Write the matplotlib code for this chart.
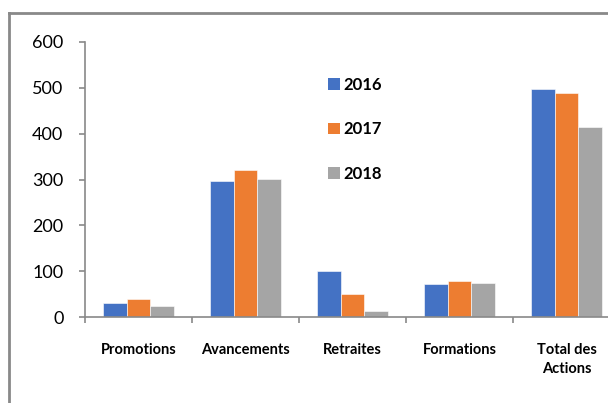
import matplotlib
matplotlib.use("Agg")
import matplotlib.pyplot as plt
import numpy as np
from matplotlib.lines import Line2D
from matplotlib.patches import Patch

# données
categories = ["Promotions", "Avancements", "Retraites", "Formations", "Total des\nActions"]
annees = ["2016", "2017", "2018"]
v2016 = [30, 297, 100, 71, 498]
v2017 = [40, 320, 50, 78, 488]
v2018 = [25, 302, 14, 74, 415]
couleurs = ["#4472C4", "#ED7D31", "#A5A5A5"]

W, H = 608, 403
fig = plt.figure(figsize=(W / 100, H / 100), dpi=100)
fig.patch.set_facecolor("white")

# axe : gauche x=85, 0 a y=317, 600 a y=42, une categorie = 107 px
x0, y0, y1, pas = 85, 317, 42, 107
ax = fig.add_axes([x0 / W, (H - y0) / H, 5 * pas / W, (y0 - y1) / H])

x = np.arange(len(categories))
larg = 0.222
for i, (vals, c) in enumerate(zip([v2016, v2017, v2018], couleurs)):
    ax.bar(x + (i - 1) * larg, vals, width=larg, color=c, edgecolor="white", linewidth=0.4, zorder=2)

ax.set_xlim(-0.5, 4.5)
ax.set_ylim(0, 600)
ax.set_yticks(range(0, 601, 100))

gris = "#898989"
for s in ["top", "right"]:
    ax.spines[s].set_visible(False)
for s in ["left", "bottom"]:
    ax.spines[s].set_color(gris)
    ax.spines[s].set_linewidth(1.2)

ax.tick_params(axis="y", length=4.5, width=1.2, color=gris, pad=11, labelsize=13)
for lab in ax.get_yticklabels():
    lab.set_fontfamily("Lato")

# graduations x aux limites des categories
ax.set_xticks(x)
ax.set_xticklabels(categories, fontfamily="Lato", fontweight="bold", fontsize=10.5, linespacing=1.45, va="top")
ax.tick_params(axis="x", which="major", length=0, pad=19)
ax.set_xticks(np.arange(-0.5, 5, 1), minor=True)
ax.tick_params(axis="x", which="minor", length=4, width=1.2, color=gris)

# legende
poignees = [Patch(facecolor=c, edgecolor="none") for c in couleurs]
leg = ax.legend(poignees, annees, loc="upper left", bbox_to_anchor=(313 / W, (H - 62) / H),
                bbox_transform=fig.transFigure, frameon=False,
                handlelength=0.7, handleheight=0.7, handletextpad=0.2,
                labelspacing=1.7, prop={"family": "Lato", "weight": "bold", "size": 12})

# cadre du graphique (coupe a droite et en bas)
fig.add_artist(Line2D([9 / W, 9 / W], [0, (H - 13) / H], color=gris, lw=2, transform=fig.transFigure))
fig.add_artist(Line2D([9 / W, 1], [(H - 13) / H, (H - 13) / H], color=gris, lw=2, transform=fig.transFigure))

fig.savefig("out.png", dpi=100)
